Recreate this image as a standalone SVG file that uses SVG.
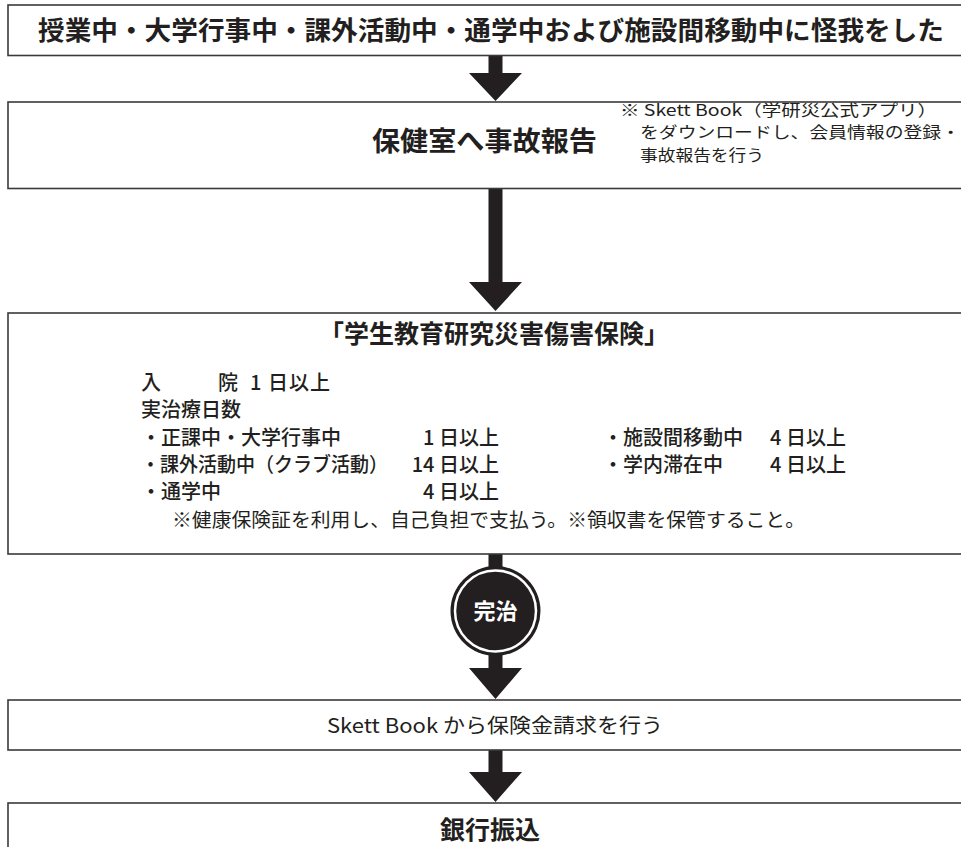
<svg xmlns="http://www.w3.org/2000/svg" width="961" height="847" viewBox="0 0 961 847">
<style>
.box{fill:#fff;stroke:#3a3a3a;stroke-width:1.6}
text{font-family:"Noto Sans CJK JP","Noto Sans",sans-serif;fill:#231f20}
.b{font-weight:700}
.m{font-weight:500}
.c{text-anchor:middle}
.arr{fill:#231f20}
</style>
<rect width="961" height="847" fill="#fff"/>
<g id="connectors">
<path class="arr" d="M488.5 55.5H502.5V73H522L495.5 101L469 73H488.5Z"/>
<path class="arr" d="M488.5 188.5H502.5V282H522L495.5 311L469 282H488.5Z"/>
<path class="arr" d="M488.5 554H502.5V668H522L495.5 699L469 668H488.5Z"/>
<path class="arr" d="M488.5 750H502.5V772H522L495.5 802L469 772H488.5Z"/>
</g>
<g id="node1">
<rect class="box" x="8" y="5" width="970" height="50.5"/>
<text class="b c" x="491" y="40" font-size="26" textLength="906" lengthAdjust="spacingAndGlyphs">授業中・大学行事中・課外活動中・通学中および施設間移動中に怪我をした</text>
</g>
<g id="node2">
<rect class="box" x="8" y="102" width="970" height="86.5"/>
<text class="b" x="372" y="151" font-size="27" textLength="225" lengthAdjust="spacingAndGlyphs">保健室へ事故報告</text>
<text x="620" y="115.5" font-size="15.5" textLength="317" lengthAdjust="spacingAndGlyphs">※ Skett Book（学研災公式アプリ）</text>
<text x="640" y="138" font-size="15.5" textLength="320" lengthAdjust="spacingAndGlyphs">をダウンロードし、会員情報の登録・</text>
<text x="640" y="160.5" font-size="15.5" textLength="124" lengthAdjust="spacingAndGlyphs">事故報告を行う</text>
</g>
<g id="node3">
<rect class="box" x="8" y="313" width="970" height="241"/>
<text class="b c" x="494" y="343" font-size="25" textLength="350" lengthAdjust="spacingAndGlyphs">「学生教育研究災害傷害保険」</text>
<g class="m" font-size="20">
<text x="141" y="390">入</text>
<text x="218" y="390">院</text>
<text x="250" y="390" letter-spacing="1">1 日以上</text>
<text x="141" y="417">実治療日数</text>
<text x="141" y="445">・正課中・大学行事中</text>
<text x="499" y="445" text-anchor="end">1 日以上</text>
<text x="141" y="472" textLength="247" lengthAdjust="spacingAndGlyphs">・課外活動中（クラブ活動）</text>
<text x="499" y="472" text-anchor="end">14 日以上</text>
<text x="141" y="499">・通学中</text>
<text x="499" y="499" text-anchor="end">4 日以上</text>
<text x="603" y="445">・施設間移動中</text>
<text x="846" y="445" text-anchor="end">4 日以上</text>
<text x="603" y="472">・学内滞在中</text>
<text x="846" y="472" text-anchor="end">4 日以上</text>
</g>
<text x="172" y="527" font-size="19" textLength="633" lengthAdjust="spacingAndGlyphs">※健康保険証を利用し、自己負担で支払う。※領収書を保管すること。</text>
</g>
<g id="node-kanchi">
<circle cx="495.5" cy="611" r="45" fill="#231f20"/>
<circle cx="495.5" cy="611" r="40.5" fill="none" stroke="#fff" stroke-width="2.5"/>
<text class="b c" x="495.5" y="619" font-size="22" style="fill:#fff">完治</text>
</g>
<g id="node4">
<rect class="box" x="8" y="700" width="970" height="50"/>
<text class="c" x="495" y="733" font-size="20" textLength="336" lengthAdjust="spacingAndGlyphs">Skett Book から保険金請求を行う</text>
</g>
<g id="node5">
<rect class="box" x="8" y="803" width="970" height="60"/>
<text class="b c" x="490" y="839" font-size="25">銀行振込</text>
</g>
</svg>
